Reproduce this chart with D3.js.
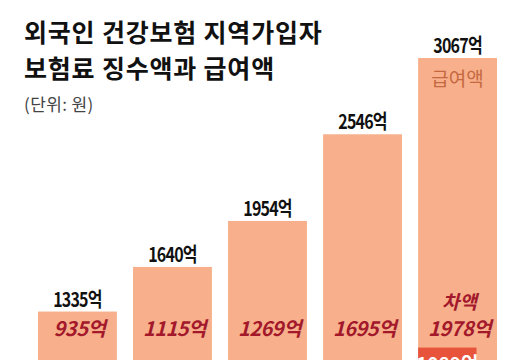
<!DOCTYPE html>
<html><head><meta charset="utf-8">
<script src="https://cdn.jsdelivr.net/npm/d3@7"></script>
<style>
html,body{margin:0;padding:0;background:#fff;}
svg{display:block;}
text{font-family:"Noto Sans CJK KR","Noto Sans",sans-serif;}
</style></head>
<body>
<svg id="chart" width="529" height="360"></svg>
<script>
const categories = ["2014", "2015", "2016", "2017", "2018"];
const benefit = [1335, 1640, 1954, 2546, 3067];      // 급여액
const collection = [400, 525, 685, 851, 1089];        // 징수액
const difference = [935, 1115, 1269, 1695, 1978];     // 차액
const titleLines = ["외국인 건강보험 지역가입자", "보험료 징수액과 급여액"];
const unitLabel = "(단위: 원)";

const svg = d3.select("#chart");
const W = 529, H = 360;

svg.append("rect").attr("width", W).attr("height", H).attr("fill", "#fff");

const x = d3.scaleBand().domain(categories).range([38, 497]).paddingInner(0.17).paddingOuter(0);
const y = d3.scaleLinear().domain([0, 3067]).range([507, 58]);

const g = svg.append("g");

// benefit bars
g.selectAll("rect.benefit").data(categories).join("rect")
  .attr("class", "benefit")
  .attr("x", d => x(d))
  .attr("y", (d, i) => y(benefit[i]))
  .attr("width", x.bandwidth())
  .attr("height", (d, i) => y(0) - y(benefit[i]))
  .attr("fill", "#F7B08B");

// collection bars
const cw = x.bandwidth() * 0.74;
g.selectAll("rect.coll").data(categories).join("rect")
  .attr("class", "coll")
  .attr("x", d => x(d))
  .attr("y", (d, i) => y(collection[i]))
  .attr("width", cw)
  .attr("height", (d, i) => y(0) - y(collection[i]))
  .attr("fill", "#E8533C");

// collection labels (only those reaching the visible area)
const visibleColl = categories.map((d, i) => i).filter(i => y(collection[i]) < H);
g.selectAll("text.coll").data(visibleColl).join("text")
  .attr("class", "coll")
  .attr("x", i => x(categories[i]) + cw / 2)
  .attr("y", i => y(collection[i]) + 23)
  .attr("text-anchor", "middle")
  .attr("fill", "#fff")
  .attr("font-weight", 700)
  .attr("font-size", 19)
  .text(i => collection[i] + "억");

// value labels above bars (condensed)
g.selectAll("g.val").data(categories).join("g")
  .attr("class", "val")
  .attr("transform", (d, i) => `translate(${x(d) + x.bandwidth() / 2},${y(benefit[i]) - 5}) scale(0.8,1)`)
  .append("text")
  .attr("text-anchor", "middle")
  .attr("fill", "#111")
  .attr("font-weight", 700)
  .attr("font-size", 20)
  .attr("letter-spacing", -1)
  .text((d, i) => benefit[i] + "억");

// difference labels
g.selectAll("text.diff").data(categories).join("text")
  .attr("class", "diff")
  .attr("x", d => x(d) + x.bandwidth() / 2 + 2)
  .attr("y", 336)
  .attr("text-anchor", "middle")
  .attr("fill", "#A3182B")
  .attr("font-weight", 700)
  .attr("font-style", "italic")
  .attr("font-size", 20)
  .attr("letter-spacing", -0.5)
  .text((d, i) => difference[i] + "억");

const last = categories[categories.length - 1];
g.append("text")
  .attr("x", x(last) + x.bandwidth() / 2 + 2)
  .attr("y", 309)
  .attr("text-anchor", "middle")
  .attr("fill", "#A3182B")
  .attr("font-weight", 700)
  .attr("font-style", "italic")
  .attr("font-size", 19)
  .text("차액");

g.append("text")
  .attr("x", x(last) + x.bandwidth() / 2)
  .attr("y", 86)
  .attr("text-anchor", "middle")
  .attr("fill", "#C5683F")
  .attr("font-size", 19)
  .text("급여액");

// title
svg.selectAll("text.title").data(titleLines).join("text")
  .attr("class", "title")
  .attr("x", 24)
  .attr("y", (d, i) => 42 + i * 36)
  .attr("fill", "#111")
  .attr("font-weight", 700)
  .attr("font-size", 25)
  .attr("letter-spacing", 0.8)
  .text(d => d);

svg.append("text")
  .attr("x", 24)
  .attr("y", 111)
  .attr("fill", "#444")
  .attr("font-size", 17)
  .attr("letter-spacing", 0.4)
  .text(unitLabel);
</script>
</body></html>
